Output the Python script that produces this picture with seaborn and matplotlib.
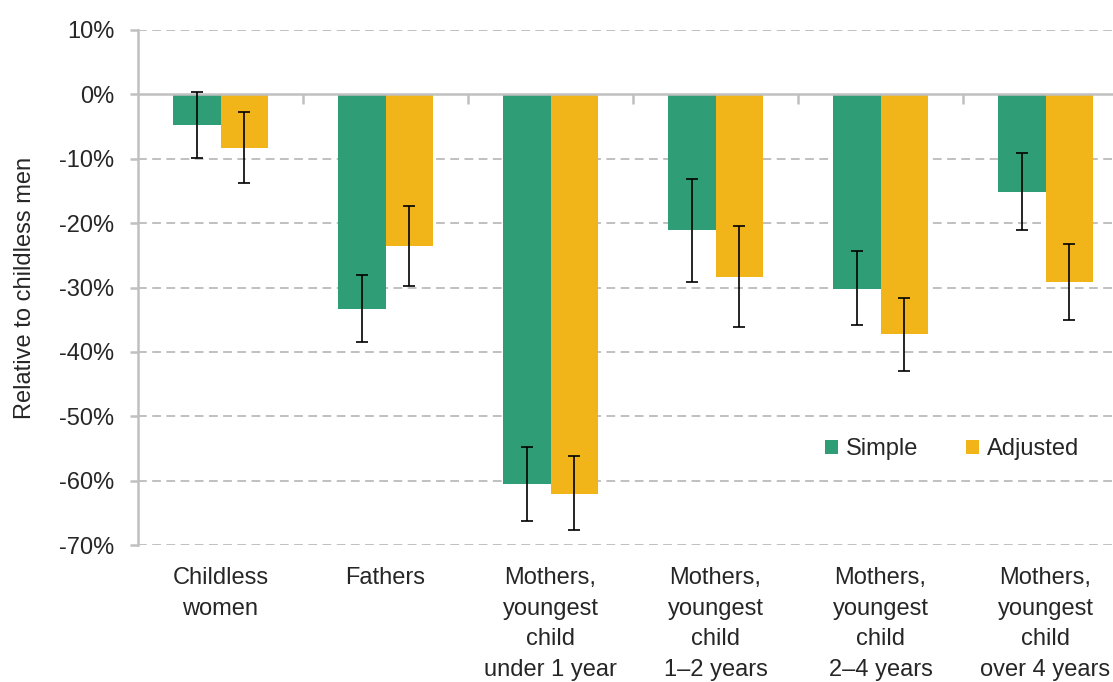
import matplotlib
matplotlib.use("Agg")
import matplotlib.pyplot as plt
import seaborn as sns
import pandas as pd
import numpy as np

# Data (percent, relative to childless men)
categories = ["Childless\nwomen", "Fathers", "Mothers,\nyoungest\nchild\nunder 1 year",
              "Mothers,\nyoungest\nchild\n1\u20132 years", "Mothers,\nyoungest\nchild\n2\u20134 years",
              "Mothers,\nyoungest\nchild\nover 4 years"]
simple = [-4.7, -33.3, -60.6, -21.1, -30.2, -15.1]
simple_lo = [-9.9, -38.4, -66.3, -29.1, -35.9, -21.0]
simple_hi = [0.4, -28.1, -54.8, -13.1, -24.3, -9.1]
adjusted = [-8.3, -23.6, -62.0, -28.3, -37.3, -29.2]
adjusted_lo = [-13.8, -29.7, -67.6, -36.2, -42.9, -35.0]
adjusted_hi = [-2.8, -17.4, -56.2, -20.4, -31.6, -23.3]
series = ["Simple", "Adjusted"]
colours = ["#2f9e76", "#f1b519"]

df = pd.DataFrame({
    "group": categories * 2,
    "series": [series[0]] * 6 + [series[1]] * 6,
    "value": simple + adjusted,
})

sns.set_style("white")
plt.rcParams["font.family"] = ["Liberation Sans", "DejaVu Sans"]
FS = 17

fig = plt.figure(figsize=(11.13, 6.82), dpi=100)
ax = fig.add_axes([138 / 1113, 1 - 545 / 682, 990 / 1113, 515 / 682])

grey = "#c0c0c0"
ax.set_ylim(-70, 10)
ax.set_xlim(-0.5, 5.5)
for y in range(-70, 11, 10):
    if y != 0:
        ax.axhline(y, color=grey, lw=1.4, ls=(0, (4.5, 2.8)), zorder=0)

sns.barplot(data=df, x="group", y="value", hue="series", palette=colours,
            width=0.576, saturation=1, errorbar=None, linewidth=0, ax=ax, zorder=2)

# error bars centred on each drawn bar
bars = [p for p in ax.patches if p.get_height() != 0]
lows = simple_lo + adjusted_lo
highs = simple_hi + adjusted_hi
for p, lo, hi in zip(bars, lows, highs):
    cx = p.get_x() + p.get_width() / 2
    ax.errorbar(cx, (lo + hi) / 2, yerr=(hi - lo) / 2, fmt="none",
                ecolor="black", elinewidth=1.2, capsize=4.5, capthick=1.2, zorder=4)

ax.axhline(0, color=grey, lw=1.8, zorder=3)

for s in ["top", "right", "bottom"]:
    ax.spines[s].set_visible(False)
ax.spines["left"].set_color(grey)
ax.spines["left"].set_linewidth(1.8)

ax.set_yticks(range(-70, 11, 10))
ax.set_yticklabels([f"{v}%" for v in range(-70, 11, 10)])
ax.tick_params(axis="y", length=6, width=1.8, color=grey, left=True, pad=11, labelsize=FS)
ax.tick_params(axis="x", length=0, pad=16, labelsize=FS)
for t in ax.get_xticklabels():
    t.set_linespacing(1.5)
    t.set_verticalalignment("top")

# boundary ticks hanging below the zero line
sec = ax.secondary_xaxis(70 / 80)
sec.set_xticks(np.arange(0.5, 5.5, 1))
sec.set_xticklabels([])
sec.tick_params(axis="x", direction="in", length=7, width=1.8, color=grey)
for s in sec.spines.values():
    s.set_visible(False)

ax.set_xlabel("")
ax.set_ylabel("Relative to childless men", fontsize=FS, labelpad=17)

ax.legend(loc="center left", bbox_to_anchor=(0.694, 0.186), ncol=2, frameon=False,
          handlelength=0.55, handleheight=0.55, handletextpad=0.35, columnspacing=2.0,
          fontsize=FS, borderaxespad=0, borderpad=0)

fig.savefig("out.png", dpi=100)
